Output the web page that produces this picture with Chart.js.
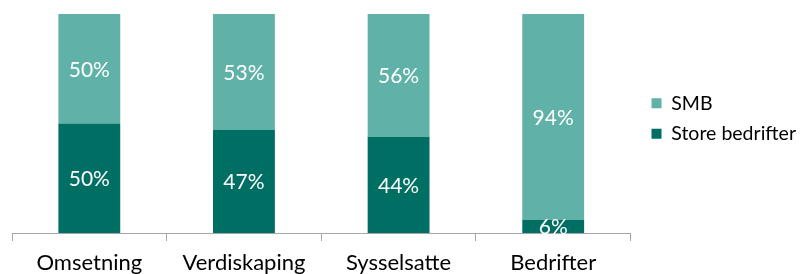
<!DOCTYPE html>
<html lang="no">
<head>
    <meta charset="UTF-8">
    <title>SMB og store bedrifter</title>
    <script src="https://cdn.jsdelivr.net/npm/chart.js"></script>
    <style>
        html, body {
            margin: 0;
            padding: 0;
            background: #ffffff;
            overflow: hidden;
        }
        .chart-box {
            position: relative;
            width: 800px;
            height: 282px;
        }
    </style>
</head>
<body>
<div class="chart-box">
    <canvas id="shareChart"></canvas>
</div>
<script>
    // Categories and shares (percent)
    const categories = ['Omsetning', 'Verdiskaping', 'Sysselsatte', 'Bedrifter'];
    const storeBedrifter = [50, 47, 44, 6];
    const smb = [50, 53, 56, 94];

    const fontFamily = "Lato, 'Open Sans', sans-serif";

    // draws the percentage in the middle of each bar segment
    const barLabels = {
        id: 'barLabels',
        afterDatasetsDraw(chart) {
            const ctx = chart.ctx;
            ctx.save();
            ctx.fillStyle = '#ffffff';
            ctx.font = '21px ' + fontFamily;
            ctx.textAlign = 'center';
            ctx.textBaseline = 'middle';
            chart.data.datasets.forEach((ds, i) => {
                chart.getDatasetMeta(i).data.forEach((bar, j) => {
                    const mid = (bar.y + bar.base) / 2;
                    ctx.fillText(ds.data[j] + '%', bar.x, mid + 1);
                });
            });
            ctx.restore();
        }
    };

    // nudge the legend a bit away from the plot
    const legendShift = {
        id: 'legendShift',
        afterLayout(chart) {
            const lg = chart.legend;
            lg.left += 10;
            lg.right += 10;
            lg.top -= 5;
            lg.bottom -= 5;
        }
    };

    new Chart(document.getElementById('shareChart'), {
        type: 'bar',
        data: {
            labels: categories,
            datasets: [
                {
                    label: 'Store bedrifter',
                    data: storeBedrifter,
                    backgroundColor: '#006f63'
                },
                {
                    label: 'SMB',
                    data: smb,
                    backgroundColor: '#60b2a8'
                }
            ]
        },
        options: {
            responsive: true,
            maintainAspectRatio: false,
            animation: false,
            layout: {
                padding: { top: 14, left: 12, right: 4, bottom: 0 }
            },
            datasets: {
                bar: {
                    barPercentage: 0.4,
                    categoryPercentage: 1.0
                }
            },
            scales: {
                x: {
                    stacked: true,
                    afterFit(scale) {
                        scale.height = 49;
                    },
                    grid: {
                        offset: true,
                        drawOnChartArea: false,
                        color: '#a6a6a6',
                        tickLength: 8
                    },
                    border: { color: '#a6a6a6', width: 1 },
                    ticks: {
                        color: '#000000',
                        padding: 9,
                        font: { family: fontFamily, size: 22 }
                    }
                },
                y: {
                    stacked: true,
                    display: false,
                    min: 0,
                    max: 100
                }
            },
            plugins: {
                tooltip: { enabled: false },
                legend: {
                    position: 'right',
                    fullSize: false,
                    reverse: true,
                    labels: {
                        boxWidth: 10,
                        boxHeight: 10,
                        padding: 11,
                        color: '#000000',
                        font: { family: fontFamily, size: 19.5 }
                    }
                }
            }
        },
        plugins: [barLabels, legendShift]
    });
</script>
</body>
</html>
